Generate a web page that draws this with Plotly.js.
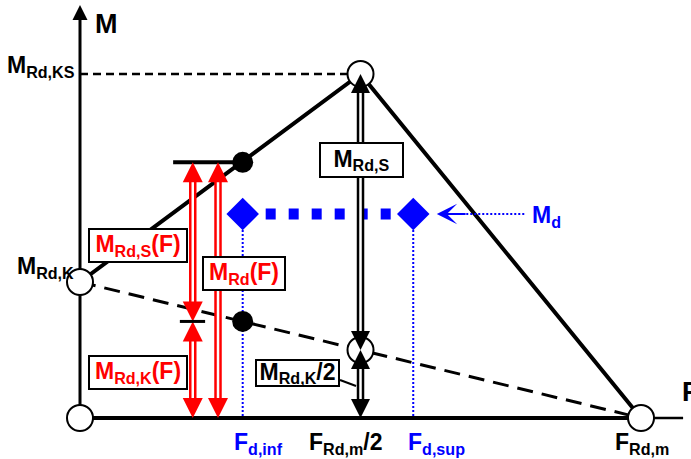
<!DOCTYPE html>
<html>
<head>
<meta charset="utf-8">
<script src="https://cdn.plot.ly/plotly-3.0.1.min.js"></script>
<style>
  html, body { margin: 0; padding: 0; background: #ffffff; }
  #chart { width: 691px; height: 459px; }
</style>
</head>
<body>
<div id="chart"></div>
<script>
// F in units of F_Rd,m, M in units of M_Rd,K
var F_RDM = 1.0;
var F_HALF = 0.5;
var F_DINF = 0.29;
var F_DSUP = 0.594;
var M_RDK = 1.0;
var M_RDKS = 2.53;
var M_HALF = 0.5;
var M_D = 1.5;

// resistance envelope (solid) and M_Rd,K line (dashed)
var envF = [0, F_HALF, F_RDM];
var envM = [M_RDK, M_RDKS, 0];
var kinkF = [0, F_RDM];
var kinkM = [M_RDK, 0];

// open nodes
var nodeF = [0, 0, F_HALF, F_HALF, F_RDM];
var nodeM = [0, M_RDK, M_RDKS, M_HALF, 0];

// values read at F_d,inf
var dotF = [0.29, 0.29];
var dotM = [1.88, 0.71];   // M_Rd(F), M_Rd,K(F)

// dimension arrows
var redLeftF = 0.201;
var redRightF = 0.246;
var barTopF = [0.166, 0.29];
var barLowF = [0.178, 0.223];

// design moment
var designF = [F_DINF, F_DSUP];
var designM = [M_D, M_D];

var RED = '#ff0000', BLUE = '#0000ff', BLACK = '#000000';
var FONT = 'Liberation Sans, Arial, sans-serif';
var hd = 0.07; // shaft end inside the arrow head

function line(x, y, color, width, dash) {
  return {
    x: x, y: y, type: 'scatter', mode: 'lines', hoverinfo: 'skip',
    line: { color: color, width: width, dash: dash || 'solid' }
  };
}

function marks(x, y, symbol, size, color, lineColor, lineWidth) {
  return {
    x: x, y: y, type: 'scatter', mode: 'markers', hoverinfo: 'skip', cliponaxis: false,
    marker: { symbol: symbol, size: size, color: color,
      line: { color: lineColor || color, width: lineWidth || 0 } }
  };
}

// vertical double-line shafts: [x, topTip, bottomTip]
var redShafts = [[redLeftF, dotM[0], dotM[1]], [redLeftF, dotM[1], 0], [redRightF, dotM[0], 0]];
var blackShafts = [[F_HALF, M_RDKS, M_HALF], [F_HALF, M_HALF, 0]];

function shaftXY(list) {
  var x = [], y = [];
  list.forEach(function (s) {
    x.push(s[0], s[0], null);
    y.push(s[1] - hd, s[2] + hd, null);
  });
  return { x: x, y: y };
}
function headsXY(list) {
  var up = { x: [], y: [] }, down = { x: [], y: [] };
  list.forEach(function (s) {
    up.x.push(s[0]); up.y.push(s[1]);
    down.x.push(s[0]); down.y.push(s[2]);
  });
  return { up: up, down: down };
}

var rs = shaftXY(redShafts), bs = shaftXY(blackShafts);
var rh = headsXY(redShafts), bh = headsXY(blackShafts);

var data = [
  // blue verticals to the axis
  line([F_DINF, F_DINF, null, F_DSUP, F_DSUP], [M_D, 0, null, M_D, 0], BLUE, 2, '2px,2px'),
  // M_Rd,KS reference
  line([0, F_HALF], [M_RDKS, M_RDKS], BLACK, 2.5, '8px,5px'),
  // axes
  line([0, 0], [0, 2.93], BLACK, 3),
  line([0, F_RDM], [0, 0], BLACK, 4),
  line([F_RDM, 1.075], [0, 0], BLACK, 2.5),
  marks([0], [3.037], 'arrow-up', 15, BLACK),
  marks([1.1], [0], 'arrow-right', 15, BLACK),
  // lines
  line(kinkF, kinkM, BLACK, 3, '16px,9px'),
  line(envF, envM, BLACK, 4),
  // design moment
  line(designF, designM, BLUE, 11, '10px,13px'),
  line([0.66, 0.793], [M_D, M_D], BLUE, 2, '2px,2px'),
  // bars
  line(barTopF, [dotM[0], dotM[0]], BLACK, 4),
  // nodes
  marks(nodeF, nodeM, 'circle', 26, '#ffffff', BLACK, 2),
  marks(dotF, dotM, 'circle', 21, BLACK),
  marks(designF, designM, 'diamond', 25, BLUE),
  // leader line for M_Rd,K/2
  line([0.4635, 0.492], [0.279, 0.235], BLACK, 2),
  // shafts
  line(rs.x, rs.y, RED, 7.5),
  line(rs.x, rs.y, '#ffffff', 2.5),
  line(bs.x, bs.y, BLACK, 7.5),
  line(bs.x, bs.y, '#ffffff', 2.5),
  // heads
  marks(rh.up.x, rh.up.y, 'arrow-up', 20, RED),
  marks(rh.down.x, rh.down.y, 'arrow-down', 20, RED),
  marks(bh.up.x, bh.up.y, 'arrow-up', 19, BLACK),
  marks(bh.down.x, bh.down.y, 'arrow-down', 19, BLACK),
  line(barLowF, [dotM[1], dotM[1]], BLACK, 3)
];

function txt(text, x, y, size, color, xanchor) {
  return {
    text: text, x: x, y: y, xref: 'x', yref: 'y', showarrow: false,
    xanchor: xanchor || 'center', yanchor: 'middle',
    font: { family: FONT, size: size, color: color, weight: 'bold' }
  };
}
function box(text, x, y, w, h, color) {
  var a = txt(text, x, y, 23, color);
  a.bgcolor = '#ffffff';
  a.bordercolor = BLACK;
  a.borderwidth = 2;
  a.borderpad = 0;
  a.width = w;
  a.height = h;
  return a;
}

var annotations = [
  txt('M', 0.048, 2.897, 27, BLACK),
  txt('M<sub>Rd,KS</sub>', -0.0053, 2.585, 23, BLACK, 'right'),
  txt('M<sub>Rd,K</sub>', -0.0071, 1.11, 23, BLACK, 'right'),
  txt('F<sub>d,inf</sub>', 0.319, -0.184, 23, BLUE),
  txt('F<sub>Rd,m</sub>/2', 0.474, -0.184, 23, BLACK),
  txt('F<sub>d,sup</sub>', 0.636, -0.184, 23, BLUE),
  txt('F<sub>Rd,m</sub>', 1.002, -0.184, 23, BLACK),
  txt('F', 1.07, 0.191, 27, BLACK, 'left'),
  txt('M<sub>d</sub>', 0.802, 1.485, 23, BLUE, 'left'),
  box('M<sub>Rd,S</sub>(F)', 0.1034, 1.265, 96, 31, RED),
  box('M<sub>Rd</sub>(F)', 0.2923, 1.066, 80, 31, RED),
  box('M<sub>Rd,K</sub>(F)', 0.1034, 0.338, 96, 31, RED),
  box('M<sub>Rd,S</sub>', 0.501, 1.897, 81, 32, BLACK),
  box('M<sub>Rd,K</sub>/2', 0.3868, 0.331, 81, 24, BLACK),
  {
    x: 0.636, y: M_D, ax: 0.69, ay: M_D, xref: 'x', yref: 'y', axref: 'x', ayref: 'y',
    text: '', showarrow: true, arrowhead: 3, arrowsize: 1.7, arrowwidth: 2, arrowcolor: BLUE
  }
];

var layout = {
  width: 691,
  height: 459,
  autosize: false,
  margin: { l: 0, r: 0, t: 0, b: 0 },
  paper_bgcolor: '#ffffff',
  plot_bgcolor: '#ffffff',
  showlegend: false,
  xaxis: { range: [-0.1426, 1.0891], visible: false, fixedrange: true },
  yaxis: { range: [-0.3015, 3.0735], visible: false, fixedrange: true },
  annotations: annotations
};

Plotly.newPlot('chart', data, layout, { staticPlot: true });
</script>
</body>
</html>
